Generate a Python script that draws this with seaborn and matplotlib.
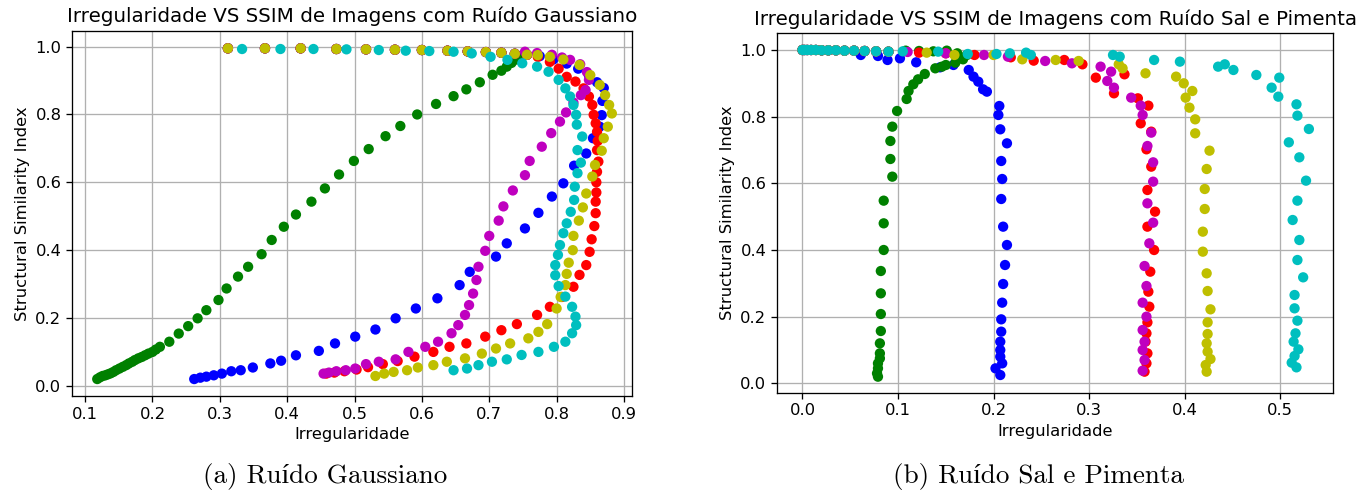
import pandas as pd
import matplotlib
matplotlib.use("Agg")
import matplotlib.pyplot as plt
import seaborn as sns

# Ruido gaussiano: trecho inicial comum (SSIM ~ 1, pouco ruido)
g_topo_x = [0.312, 0.367, 0.420, 0.473, 0.517, 0.560, 0.600, 0.638, 0.668, 0.695, 0.718, 0.738, 0.756]
g_topo_y = [0.995, 0.995, 0.995, 0.993, 0.992, 0.991, 0.990, 0.988, 0.986, 0.984, 0.982, 0.979, 0.976]

g_verde_x = [0.748, 0.740, 0.733, 0.726, 0.718, 0.705, 0.686, 0.666, 0.647, 0.621, 0.593, 0.568,
             0.546, 0.521, 0.499, 0.477, 0.456, 0.436, 0.413, 0.395, 0.377, 0.362, 0.342, 0.327,
             0.310, 0.298, 0.280, 0.267, 0.253, 0.239, 0.225, 0.211, 0.205, 0.200, 0.194, 0.189,
             0.184, 0.179, 0.174, 0.170, 0.165, 0.161, 0.156, 0.151, 0.146, 0.142, 0.138, 0.134,
             0.130, 0.126, 0.122, 0.118]
g_verde_y = [0.972, 0.962, 0.952, 0.941, 0.929, 0.917, 0.895, 0.874, 0.854, 0.831, 0.800, 0.766,
             0.736, 0.698, 0.663, 0.623, 0.582, 0.543, 0.505, 0.469, 0.430, 0.388, 0.351, 0.322,
             0.287, 0.253, 0.223, 0.199, 0.176, 0.154, 0.130, 0.115, 0.107, 0.100, 0.095, 0.090,
             0.085, 0.081, 0.076, 0.071, 0.066, 0.061, 0.056, 0.051, 0.046, 0.041, 0.037, 0.034,
             0.031, 0.029, 0.025, 0.020]

g_azul_x = [0.775, 0.795, 0.815, 0.832, 0.848, 0.860, 0.870, 0.868, 0.867, 0.864, 0.854, 0.844,
            0.826, 0.810, 0.793, 0.773, 0.753, 0.726, 0.710, 0.671, 0.656, 0.623, 0.591, 0.561,
            0.531, 0.501, 0.471, 0.447, 0.413, 0.391, 0.375, 0.349, 0.331, 0.317, 0.303, 0.291,
            0.280, 0.271, 0.262]
g_azul_y = [0.972, 0.962, 0.950, 0.935, 0.915, 0.895, 0.878, 0.840, 0.798, 0.764, 0.730, 0.685,
            0.649, 0.597, 0.558, 0.510, 0.464, 0.420, 0.381, 0.336, 0.297, 0.258, 0.228, 0.199,
            0.166, 0.145, 0.125, 0.103, 0.090, 0.074, 0.066, 0.054, 0.046, 0.043, 0.036, 0.031,
            0.027, 0.024, 0.020]

g_vermelho_x = [0.772, 0.790, 0.803, 0.815, 0.828, 0.840, 0.848, 0.853, 0.855, 0.858, 0.860, 0.861,
                0.860, 0.862, 0.860, 0.859, 0.859, 0.858, 0.858, 0.856, 0.852, 0.849, 0.844, 0.834,
                0.825, 0.808, 0.790, 0.771, 0.741, 0.718, 0.694, 0.666, 0.641, 0.617, 0.589, 0.564,
                0.542, 0.520, 0.503, 0.485, 0.470, 0.458]
g_vermelho_y = [0.970, 0.955, 0.935, 0.911, 0.897, 0.877, 0.853, 0.828, 0.799, 0.774, 0.749, 0.722,
                0.695, 0.661, 0.631, 0.600, 0.570, 0.543, 0.509, 0.471, 0.432, 0.395, 0.356, 0.327,
                0.292, 0.262, 0.233, 0.209, 0.182, 0.164, 0.145, 0.125, 0.115, 0.100, 0.086, 0.073,
                0.064, 0.055, 0.048, 0.043, 0.039, 0.036]

g_magenta_x = [0.753, 0.771, 0.793, 0.808, 0.820, 0.835, 0.845, 0.848, 0.843, 0.836, 0.825, 0.814,
               0.805, 0.792, 0.778, 0.760, 0.753, 0.735, 0.721, 0.714, 0.700, 0.694, 0.684, 0.681,
               0.676, 0.670, 0.664, 0.654, 0.644, 0.624, 0.605, 0.580, 0.561, 0.536, 0.517, 0.501,
               0.487, 0.473, 0.462, 0.454]
g_magenta_y = [0.985, 0.981, 0.976, 0.968, 0.961, 0.948, 0.925, 0.902, 0.872, 0.857, 0.835, 0.806,
               0.779, 0.745, 0.705, 0.663, 0.621, 0.576, 0.529, 0.487, 0.442, 0.398, 0.351, 0.312,
               0.272, 0.238, 0.209, 0.179, 0.155, 0.130, 0.115, 0.100, 0.078, 0.071, 0.064, 0.051,
               0.046, 0.043, 0.039, 0.036]

g_amarelo_x = [0.772, 0.790, 0.810, 0.834, 0.850, 0.864, 0.872, 0.878, 0.882, 0.876, 0.870, 0.867,
               0.857, 0.853, 0.844, 0.839, 0.833, 0.825, 0.824, 0.818, 0.815, 0.813, 0.806, 0.800,
               0.786, 0.773, 0.758, 0.731, 0.710, 0.689, 0.664, 0.637, 0.617, 0.594, 0.578, 0.558,
               0.544, 0.531]
g_amarelo_y = [0.975, 0.970, 0.962, 0.946, 0.916, 0.887, 0.857, 0.828, 0.803, 0.764, 0.730, 0.693,
               0.651, 0.617, 0.567, 0.526, 0.487, 0.442, 0.400, 0.363, 0.330, 0.297, 0.262, 0.228,
               0.182, 0.159, 0.140, 0.125, 0.110, 0.095, 0.081, 0.071, 0.061, 0.054, 0.046, 0.041,
               0.036, 0.029]

g_ciano_x = [0.333, 0.390, 0.439, 0.488, 0.536, 0.576, 0.611, 0.647, 0.674, 0.702, 0.727, 0.749,
             0.771, 0.788, 0.803, 0.813, 0.820, 0.825, 0.829, 0.830, 0.838, 0.831, 0.836, 0.831,
             0.827, 0.826, 0.821, 0.815, 0.810, 0.805, 0.802, 0.798, 0.798, 0.803, 0.813, 0.823,
             0.828, 0.829, 0.823, 0.813, 0.796, 0.773, 0.748, 0.726, 0.704, 0.684, 0.667, 0.647]
g_ciano_y = [0.993, 0.993, 0.993, 0.992, 0.990, 0.988, 0.987, 0.985, 0.980, 0.970, 0.961, 0.951,
             0.941, 0.926, 0.902, 0.877, 0.853, 0.828, 0.799, 0.770, 0.735, 0.695, 0.658, 0.627,
             0.587, 0.548, 0.513, 0.479, 0.450, 0.415, 0.386, 0.356, 0.326, 0.294, 0.263, 0.233,
             0.204, 0.179, 0.155, 0.130, 0.115, 0.100, 0.091, 0.078, 0.071, 0.061, 0.051, 0.046]

# Ruido sal e pimenta: aglomerado inicial comum
sp_topo_x = [0.000, 0.002, 0.005, 0.009, 0.014, 0.020, 0.027, 0.035, 0.044, 0.054, 0.065, 0.077, 0.090]
sp_topo_y = [1.000, 1.000, 1.000, 1.000, 1.000, 0.999, 0.999, 0.999, 0.998, 0.998, 0.997, 0.996, 0.995]

sp_verde_x = [0.108, 0.122, 0.137, 0.151, 0.162, 0.172, 0.168, 0.160, 0.150, 0.146, 0.139, 0.128,
              0.121, 0.116, 0.111, 0.109, 0.099, 0.094, 0.092, 0.092, 0.094, 0.085, 0.085, 0.085,
              0.082, 0.082, 0.082, 0.082, 0.081, 0.081, 0.081, 0.079, 0.079, 0.078, 0.079]
sp_verde_y = [0.998, 0.997, 0.996, 0.998, 0.990, 0.985, 0.972, 0.962, 0.955, 0.950, 0.945, 0.928,
              0.912, 0.897, 0.877, 0.853, 0.817, 0.770, 0.727, 0.673, 0.620, 0.548, 0.480, 0.400,
              0.337, 0.270, 0.208, 0.157, 0.120, 0.090, 0.075, 0.060, 0.045, 0.030, 0.020]

sp_azul_x = [0.061, 0.079, 0.089, 0.102, 0.119, 0.144, 0.158, 0.174, 0.179, 0.184, 0.189, 0.193,
             0.206, 0.205, 0.207, 0.214, 0.208, 0.209, 0.208, 0.210, 0.214, 0.212, 0.210, 0.209,
             0.208, 0.208, 0.207, 0.207, 0.207, 0.209, 0.202, 0.207]
sp_azul_y = [0.985, 0.982, 0.970, 0.975, 0.963, 0.948, 0.955, 0.940, 0.920, 0.905, 0.882, 0.875,
             0.832, 0.805, 0.762, 0.720, 0.667, 0.613, 0.553, 0.470, 0.415, 0.355, 0.298, 0.242,
             0.192, 0.155, 0.125, 0.100, 0.080, 0.060, 0.045, 0.025]

sp_vermelho_x = [0.122, 0.150, 0.180, 0.218, 0.242, 0.274, 0.293, 0.307, 0.326, 0.337, 0.351, 0.362,
                 0.354, 0.365, 0.360, 0.365, 0.361, 0.369, 0.361, 0.368, 0.364, 0.362, 0.363, 0.361,
                 0.360, 0.359, 0.361, 0.360, 0.358]
sp_vermelho_y = [0.992, 0.990, 0.985, 0.978, 0.968, 0.970, 0.957, 0.917, 0.870, 0.927, 0.855, 0.833,
                 0.780, 0.755, 0.702, 0.650, 0.580, 0.515, 0.470, 0.400, 0.335, 0.275, 0.230, 0.183,
                 0.150, 0.125, 0.090, 0.060, 0.035]

sp_magenta_x = [0.110, 0.150, 0.190, 0.215, 0.254, 0.282, 0.312, 0.323, 0.319, 0.326, 0.344, 0.354,
                0.356, 0.365, 0.361, 0.367, 0.367, 0.361, 0.367, 0.363, 0.358, 0.360, 0.356, 0.360,
                0.356, 0.358, 0.356, 0.358, 0.356]
sp_magenta_y = [0.994, 0.990, 0.985, 0.980, 0.967, 0.960, 0.950, 0.935, 0.907, 0.887, 0.857, 0.833,
                0.805, 0.752, 0.712, 0.663, 0.605, 0.540, 0.482, 0.420, 0.352, 0.292, 0.242, 0.200,
                0.160, 0.125, 0.100, 0.070, 0.038]

sp_amarelo_x = [0.130, 0.159, 0.200, 0.230, 0.265, 0.289, 0.331, 0.335, 0.359, 0.391, 0.399, 0.408,
                0.401, 0.405, 0.411, 0.411, 0.426, 0.423, 0.421, 0.421, 0.419, 0.419, 0.423, 0.424,
                0.427, 0.424, 0.424, 0.423, 0.424, 0.427, 0.422, 0.423]
sp_amarelo_y = [0.992, 0.985, 0.985, 0.972, 0.970, 0.967, 0.957, 0.945, 0.930, 0.920, 0.900, 0.877,
                0.857, 0.827, 0.792, 0.750, 0.698, 0.643, 0.583, 0.523, 0.455, 0.395, 0.330, 0.277,
                0.222, 0.183, 0.148, 0.120, 0.095, 0.073, 0.055, 0.035]

sp_ciano_x = [0.105, 0.142, 0.173, 0.203, 0.217, 0.234, 0.239, 0.325, 0.332, 0.368, 0.395, 0.435,
              0.442, 0.451, 0.475, 0.491, 0.499, 0.498, 0.517, 0.518, 0.530, 0.509, 0.520, 0.527,
              0.518, 0.513, 0.520, 0.518, 0.524, 0.515, 0.515, 0.518, 0.516, 0.514, 0.519, 0.515,
              0.512, 0.517]
sp_ciano_y = [0.996, 0.995, 0.988, 0.988, 0.990, 0.992, 0.985, 0.985, 0.980, 0.970, 0.965, 0.950,
              0.957, 0.940, 0.925, 0.887, 0.917, 0.860, 0.837, 0.803, 0.763, 0.723, 0.678, 0.608,
              0.548, 0.490, 0.430, 0.370, 0.318, 0.265, 0.225, 0.188, 0.150, 0.125, 0.102, 0.082,
              0.062, 0.048]

cores = {"b": "b", "g": "g", "r": "r", "m": "m", "y": "y", "c": "c"}


def monta(series, topo_x, topo_y):
    linhas = []
    for nome, xs, ys in series:
        if nome != "c":
            xs = topo_x + xs
            ys = topo_y + ys
        elif topo_x is sp_topo_x:
            xs = topo_x + xs
            ys = topo_y + ys
        for x, y in zip(xs, ys):
            linhas.append({"irregularidade": x, "ssim": y, "serie": nome})
    return pd.DataFrame(linhas)


gauss = monta([("b", g_azul_x, g_azul_y), ("g", g_verde_x, g_verde_y),
               ("r", g_vermelho_x, g_vermelho_y), ("m", g_magenta_x, g_magenta_y),
               ("y", g_amarelo_x, g_amarelo_y), ("c", g_ciano_x, g_ciano_y)],
              g_topo_x, g_topo_y)
salpim = monta([("b", sp_azul_x, sp_azul_y), ("g", sp_verde_x, sp_verde_y),
                ("r", sp_vermelho_x, sp_vermelho_y), ("m", sp_magenta_x, sp_magenta_y),
                ("y", sp_amarelo_x, sp_amarelo_y), ("c", sp_ciano_x, sp_ciano_y)],
               sp_topo_x, sp_topo_y)

k = 1.18  # a figura original foi ampliada
plt.rcParams.update({
    "font.size": 10 * k,
    "axes.linewidth": 0.8 * k,
    "grid.linewidth": 0.8 * k,
    "xtick.major.size": 3.5 * k,
    "ytick.major.size": 3.5 * k,
    "xtick.major.width": 0.8 * k,
    "ytick.major.width": 0.8 * k,
})

fig = plt.figure(figsize=(13.66, 4.95), dpi=100)
ax1 = fig.add_axes([0.0527, 0.2, 0.41, 0.738])
ax2 = fig.add_axes([0.5688, 0.2067, 0.4073, 0.726])

sns.scatterplot(data=gauss, x="irregularidade", y="ssim", hue="serie", palette=cores,
                s=55, linewidth=0, legend=False, ax=ax1)
ax1.set_xlim(0.0805, 0.912)
ax1.set_ylim(-0.030, 1.047)
ax1.set_xticks([0.1, 0.2, 0.3, 0.4, 0.5, 0.6, 0.7, 0.8, 0.9])
ax1.set_title("Irregularidade VS SSIM de Imagens com Ruído Gaussiano", fontsize=14.3)

sns.scatterplot(data=salpim, x="irregularidade", y="ssim", hue="serie", palette=cores,
                s=55, linewidth=0, legend=False, ax=ax2)
ax2.set_xlim(-0.0267, 0.5556)
ax2.set_ylim(-0.028, 1.050)
ax2.set_xticks([0.0, 0.1, 0.2, 0.3, 0.4, 0.5])
ax2.set_title("Irregularidade VS SSIM de Imagens com Ruído Sal e Pimenta", fontsize=14.3)

for ax in (ax1, ax2):
    ax.set_yticks([0.0, 0.2, 0.4, 0.6, 0.8, 1.0])
    ax.grid(True)
    ax.set_axisbelow(True)
    ax.set_xlabel("Irregularidade")
    ax.set_ylabel("Structural Similarity Index")

serifa = ["cmr10", "Liberation Serif"]
fig.text(325 / 1366, 1 - 476 / 495, "(a) Ruído Gaussiano", ha="center", va="center",
         family=serifa, fontsize=19.5)
fig.text(1038 / 1366, 1 - 476 / 495, "(b) Ruído Sal e Pimenta", ha="center", va="center",
         family=serifa, fontsize=19.5)

fig.savefig("out.png", dpi=100)
